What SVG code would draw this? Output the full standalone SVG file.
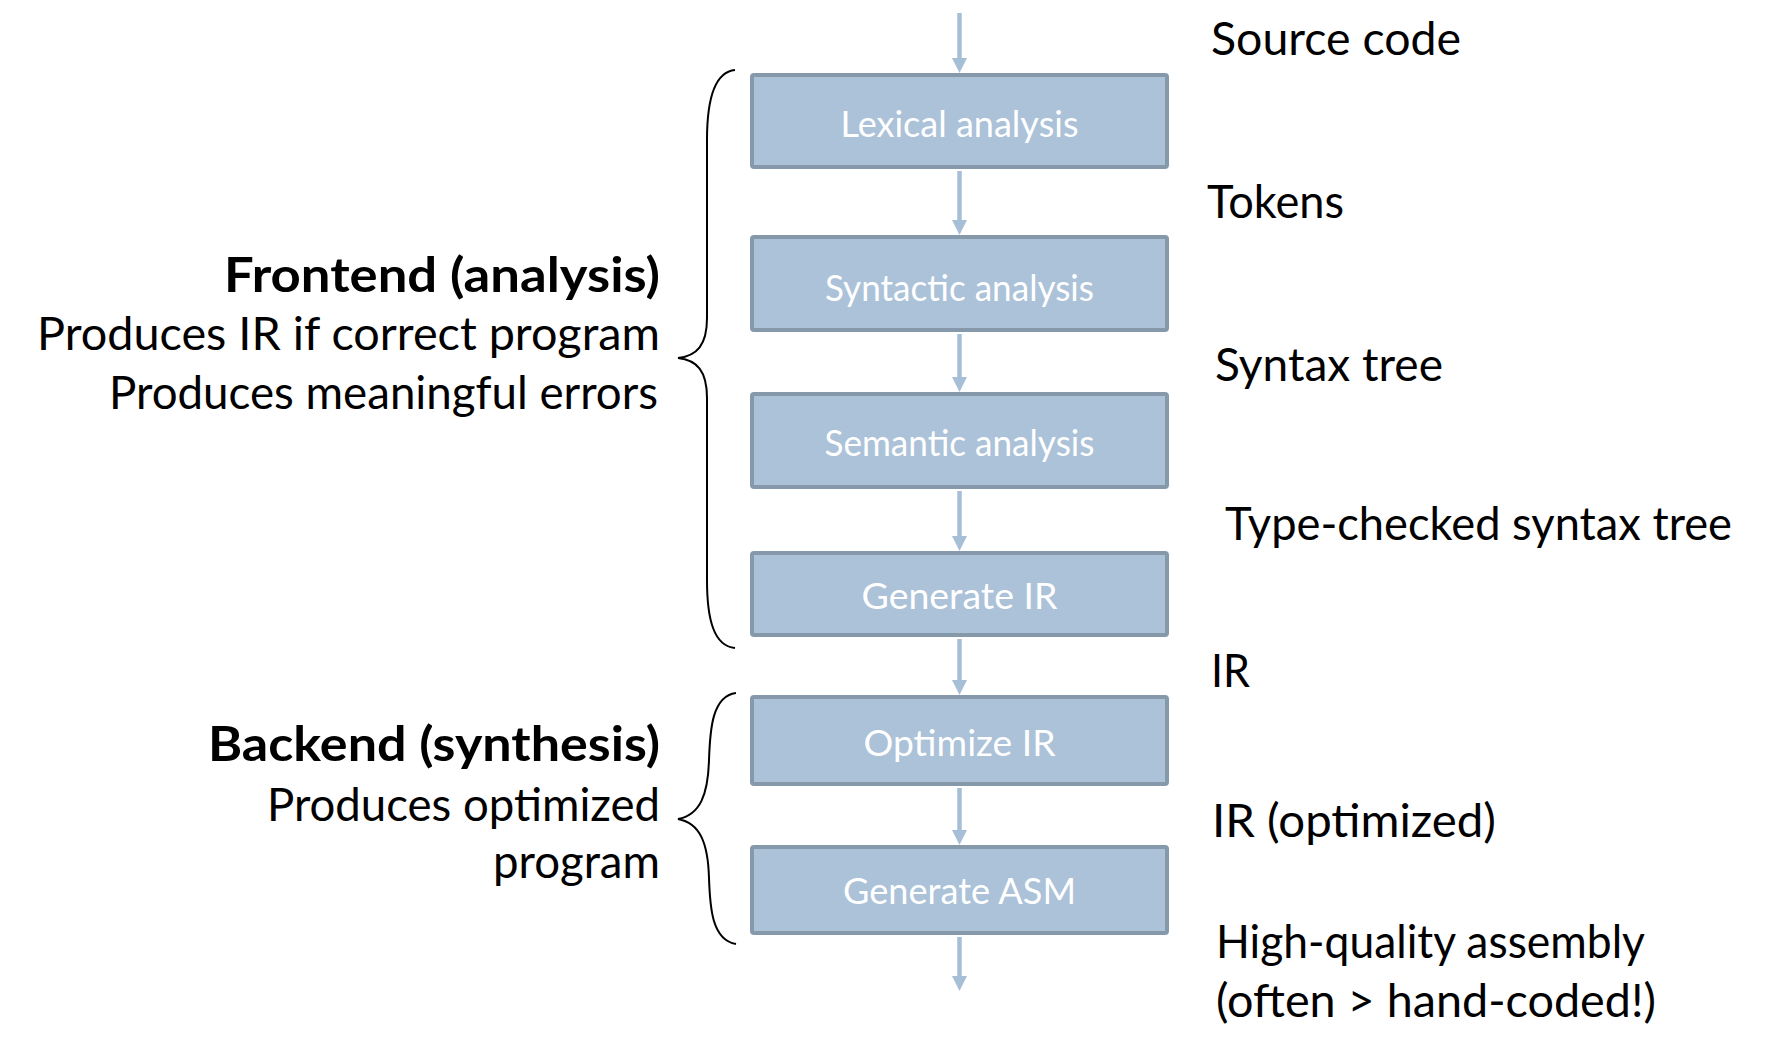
<svg xmlns="http://www.w3.org/2000/svg" width="1766" height="1046" viewBox="0 0 1766 1046">
<style>
.box{fill:#abc2d8;stroke:#8699ab;stroke-width:4}
.bt{font-family:Lato,"Open Sans",sans-serif;font-size:37px;fill:#ffffff;text-anchor:middle}
.lbl{font-family:Lato,"Open Sans",sans-serif;font-size:47px;fill:#000}
.lft{font-family:Lato,"Open Sans",sans-serif;font-size:47px;fill:#000;text-anchor:end}
.bold{font-weight:bold}
.conn{stroke:#a6bfd6;stroke-width:4.5;fill:none;marker-end:url(#ah)}
.brace{stroke:#000;stroke-width:2;fill:none}
</style>
<defs>
<marker id="ah" markerUnits="userSpaceOnUse" markerWidth="15" markerHeight="15" viewBox="0 0 15 15" refX="9" refY="7.5" orient="auto">
<path d="M0,0 L15,7.5 L0,15 z" fill="#a6bfd6"/>
</marker>
</defs>
<rect width="1766" height="1046" fill="#ffffff"/>
<g id="connectors">
<line class="conn" x1="959.5" y1="13" x2="959.5" y2="67"/>
<line class="conn" x1="959.5" y1="171" x2="959.5" y2="229"/>
<line class="conn" x1="959.5" y1="334" x2="959.5" y2="386"/>
<line class="conn" x1="959.5" y1="491" x2="959.5" y2="545"/>
<line class="conn" x1="959.5" y1="639" x2="959.5" y2="689"/>
<line class="conn" x1="959.5" y1="788" x2="959.5" y2="839"/>
<line class="conn" x1="959.5" y1="937" x2="959.5" y2="985"/>
</g>
<g id="lexical">
<rect class="box" x="752" y="75" width="415" height="92" rx="2"/>
<text class="bt" x="959.5" y="137" textLength="238" lengthAdjust="spacingAndGlyphs">Lexical analysis</text>
</g>
<g id="syntactic">
<rect class="box" x="752" y="237" width="415" height="93" rx="2"/>
<text class="bt" x="959.5" y="301" textLength="269" lengthAdjust="spacingAndGlyphs">Syntactic analysis</text>
</g>
<g id="semantic">
<rect class="box" x="752" y="394" width="415" height="93" rx="2"/>
<text class="bt" x="959.5" y="456" textLength="270" lengthAdjust="spacingAndGlyphs">Semantic analysis</text>
</g>
<g id="genir">
<rect class="box" x="752" y="553" width="415" height="82" rx="2"/>
<text class="bt" x="959.5" y="609" textLength="196" lengthAdjust="spacingAndGlyphs">Generate IR</text>
</g>
<g id="optir">
<rect class="box" x="752" y="697" width="415" height="87" rx="2"/>
<text class="bt" x="959.5" y="756" textLength="192" lengthAdjust="spacingAndGlyphs">Optimize IR</text>
</g>
<g id="genasm">
<rect class="box" x="752" y="847" width="415" height="86" rx="2"/>
<text class="bt" x="959.5" y="904" textLength="233" lengthAdjust="spacingAndGlyphs">Generate ASM</text>
</g>
<g id="labels">
<text class="lbl" x="1211" y="55" textLength="250" lengthAdjust="spacingAndGlyphs">Source code</text>
<text class="lbl" x="1207" y="218" textLength="137" lengthAdjust="spacingAndGlyphs">Tokens</text>
<text class="lbl" x="1215" y="381" textLength="228" lengthAdjust="spacingAndGlyphs">Syntax tree</text>
<text class="lbl" x="1225" y="540" textLength="507" lengthAdjust="spacingAndGlyphs">Type-checked syntax tree</text>
<text class="lbl" x="1211" y="687" textLength="39" lengthAdjust="spacingAndGlyphs">IR</text>
<text class="lbl" x="1212" y="837" textLength="284" lengthAdjust="spacingAndGlyphs">IR (optimized)</text>
<text class="lbl" x="1216" y="958" textLength="429" lengthAdjust="spacingAndGlyphs">High-quality assembly</text>
<text class="lbl" x="1216" y="1017" textLength="440" lengthAdjust="spacingAndGlyphs">(often &gt; hand-coded!)</text>
</g>
<g id="frontend">
<path class="brace" d="M 735 70 C 714 72, 707 100, 707 140 L 707 318 C 707 345, 697 356, 678 358 C 697 360, 707 371, 707 398 L 707 580 C 707 620, 714 646, 735 648"/>
<text class="lft bold" x="660" y="292" textLength="436" lengthAdjust="spacingAndGlyphs">Frontend (analysis)</text>
<text class="lft" x="660" y="350" textLength="623" lengthAdjust="spacingAndGlyphs">Produces IR if correct program</text>
<text class="lft" x="658" y="409" textLength="549" lengthAdjust="spacingAndGlyphs">Produces meaningful errors</text>
</g>
<g id="backend">
<path class="brace" d="M 736 693 C 712 696, 710 730, 709 760 C 708 795, 700 815, 678 819 C 700 823, 708 843, 709 878 C 710 908, 712 940, 736 944"/>
<text class="lft bold" x="660" y="761" textLength="452" lengthAdjust="spacingAndGlyphs">Backend (synthesis)</text>
<text class="lft" x="660" y="821" textLength="393" lengthAdjust="spacingAndGlyphs">Produces optimized</text>
<text class="lft" x="660" y="878" textLength="167" lengthAdjust="spacingAndGlyphs">program</text>
</g>
</svg>
